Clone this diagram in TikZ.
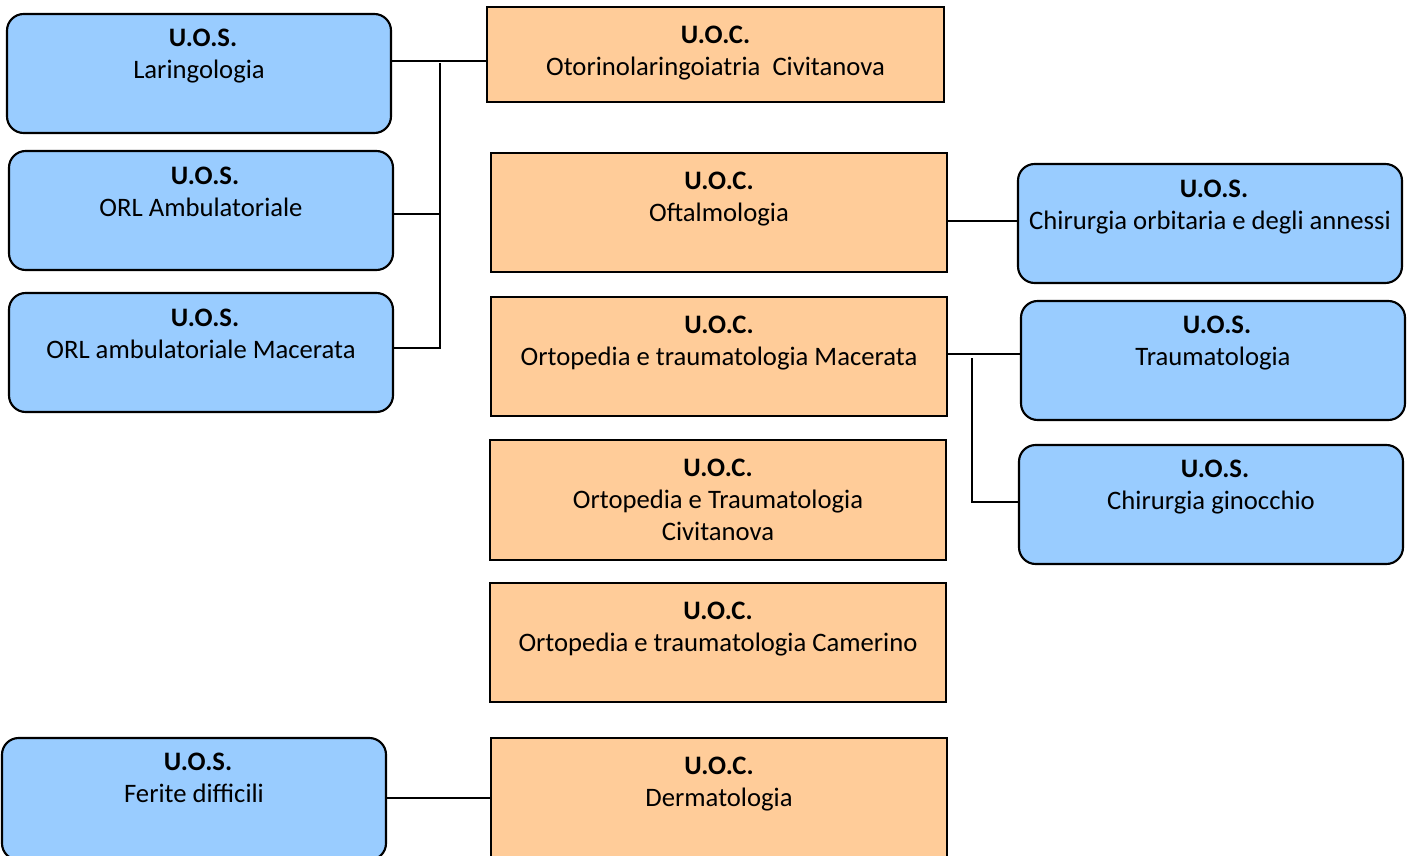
\documentclass[tikz,border=0pt]{standalone}
\usepackage{fontspec}
\setmainfont{Carlito}
\definecolor{uosblue}{HTML}{99CCFF}
\definecolor{uocorange}{HTML}{FFCC99}
\tikzset{
  uos/.style={draw=black, line width=1.6pt, fill=uosblue, rounded corners=12.5pt, inner sep=0pt},
  uoc/.style={draw=black, line width=1.6pt, fill=uocorange, inner sep=0pt},
  txt/.style={anchor=north, inner sep=0pt, align=center, font=\fontsize{20}{24}\selectfont},
  conn/.style={draw=black, line width=1.4pt}
}
% name, style, x1, y1, x2, y2, first-line centre y, text
\newcommand\obox[8]{%
  \node[#2, minimum width={(#5-#3)*0.75pt}, minimum height={(#6-#4)*0.75pt}] (#1) at ({(#3+#5)/2},{(#4+#6)/2}) {};
  \node[txt] (#1t) at ({(#3+#5)/2},{#7-13.8}) {\strut #8};
}
\newcommand\uoshead{\hspace*{6pt}\textbf{U.O.S.}}
\begin{document}
\begin{tikzpicture}[x=0.75pt,y=-0.75pt]
\useasboundingbox[fill=white] (0,0) rectangle (1415,856);
% left U.O.S.
\obox{lar}{uos}{7}{14}{391}{133}{38}{\uoshead\\Laringologia}
\obox{orla}{uos}{9}{151}{393}{270}{176}{\uoshead\\ORL Ambulatoriale}
\obox{mac}{uos}{9}{293}{393}{412}{318}{\uoshead\\ORL ambulatoriale Macerata}
\obox{fer}{uos}{2}{738}{386}{860}{762}{\uoshead\\Ferite difficili}
% centre U.O.C.
\obox{otor}{uoc}{487}{7}{944}{102}{35}{\textbf{U.O.C.}\\Otorinolaringoiatria\ \ Civitanova}
\obox{oft}{uoc}{491}{153}{947}{272}{181}{\textbf{U.O.C.}\\Oftalmologia}
\obox{ortm}{uoc}{491}{297}{947}{416}{325}{\textbf{U.O.C.}\\Ortopedia e traumatologia Macerata}
\obox{ortc}{uoc}{490}{440}{946}{560}{468}{\textbf{U.O.C.}\\Ortopedia e Traumatologia\\Civitanova}
\obox{cam}{uoc}{490}{583}{946}{702}{611}{\textbf{U.O.C.}\\Ortopedia e traumatologia Camerino}
\obox{derm}{uoc}{491}{738}{947}{866}{766}{\textbf{U.O.C.}\\Dermatologia}
% right U.O.S.
\obox{chor}{uos}{1018}{164}{1402}{283}{189}{\uoshead\\Chirurgia orbitaria e degli annessi}
\obox{trau}{uos}{1021}{301}{1405}{420}{325}{\uoshead\\Traumatologia}
\obox{gin}{uos}{1019}{445}{1403}{564}{469}{\uoshead\\Chirurgia ginocchio}
% junctions
\coordinate (jt) at (440,63);
\coordinate (jb) at (440,348);
\coordinate (kt) at (972,358);
\coordinate (kb) at (972,502);
% connectors
\draw[conn] (lar.east |- 0,61) -- (otor.west |- 0,61);
\draw[conn] (jt) -- (jb) -- (mac.east |- jb);
\draw[conn] (orla.east |- 0,214) -- (jt |- 0,214);
\draw[conn] (oft.east |- 0,221) -- (chor.west |- 0,221);
\draw[conn] (ortm.east |- 0,354) -- (trau.west |- 0,354);
\draw[conn] (kt) -- (kb) -- (gin.west |- kb);
\draw[conn] (fer.east |- 0,798) -- (derm.west |- 0,798);
\end{tikzpicture}
\end{document}
